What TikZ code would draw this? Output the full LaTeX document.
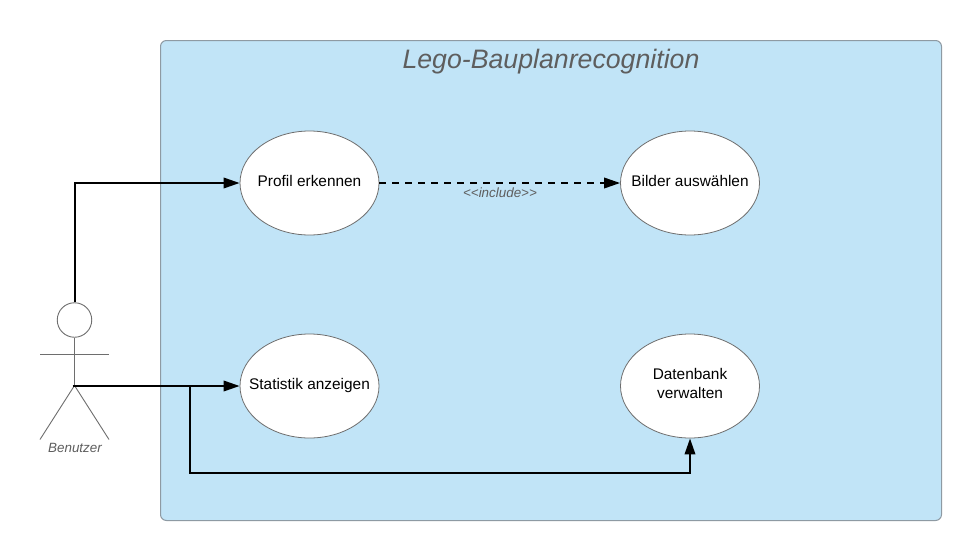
\documentclass[tikz,border=0pt]{standalone}
\usepackage{fontspec}
\setmainfont{Liberation Sans}
\usetikzlibrary{arrows.meta,shapes.geometric}
\definecolor{sysfill}{HTML}{C1E4F7}
\definecolor{sysline}{HTML}{8E9AA3}
\definecolor{greyline}{HTML}{6E6E6E}
\definecolor{greytext}{HTML}{5E5E5E}
\tikzset{
  x=1pt,y=-1pt,
  usecase/.style={ellipse,draw=greyline,line width=0.8pt,fill=white,minimum width=139pt,minimum height=104pt,inner sep=0pt},
  uctext/.style={align=center,font=\fontsize{15.4}{19}\selectfont,text=black,yshift=2pt},
  conn/.style={draw=black,line width=2pt,-{Triangle[length=16pt,width=10.5pt,black]}},
  limb/.style={draw=greyline,line width=0.9pt},
  note/.style={text=greytext}
}
\begin{document}
\begin{tikzpicture}
\useasboundingbox (0,0) rectangle (969,552);
\fill[white] (0,0) rectangle (969,552);
\node[draw=sysline,fill=sysfill,line width=1pt,rounded corners=6pt,minimum width=781pt,minimum height=480pt,inner sep=0pt,anchor=north west] (sys) at (160,40) {};
\node[note,font=\itshape\fontsize{26.7}{30}\selectfont] (title) at (551,61.8) {Lego-Bauplanrecognition};
\node[usecase] (profil) at (309.5,183) {};
\node[usecase] (bilder) at (690,183) {};
\node[usecase] (stat) at (309.5,386) {};
\node[usecase] (db) at (690,386) {};
\node[uctext] (profiltext) at (profil) {Profil erkennen};
\node[uctext] (bildertext) at (bilder) {Bilder auswählen};
\node[uctext,yshift=-2pt] (stattext) at (stat) {Statistik anzeigen};
\node[uctext,yshift=1pt] (dbtext) at (db) {Datenbank\\verwalten};
% actor
\node[circle,draw=greyline,line width=0.9pt,fill=white,minimum size=34.5pt,inner sep=0pt] (head) at (74.5,320) {};
\coordinate (hip) at (74.5,385.5);
\coordinate (armL) at (40,354);
\coordinate (armR) at (109,354);
\coordinate (legL) at (40,439.5);
\coordinate (legR) at (109,439.5);
\draw[limb] (head.south) -- (hip);
\draw[limb] (armL) -- (armR);
\draw[limb] (legL) -- (hip) -- (legR);
\node[note,font=\itshape\fontsize{13.4}{15}\selectfont] (benutzer) at (75,447.5) {Benutzer};
% connectors
\draw[conn] (head.north) |- (profil.west);
\coordinate (start) at (72.5,386);
\coordinate (branch) at (190,386);
\coordinate (corner) at (190,473);
\draw[conn] (start) -- (stat.west);
\draw[conn] (branch) -- (corner) -| (db.south);
\draw[conn,dash pattern=on 6.5pt off 6.5pt] (profil.east) -- (bilder.west);
\node[note,font=\itshape\fontsize{13.4}{15}\selectfont] (incl) at (500,193) {<{}<include>{}>};
\end{tikzpicture}
\end{document}
